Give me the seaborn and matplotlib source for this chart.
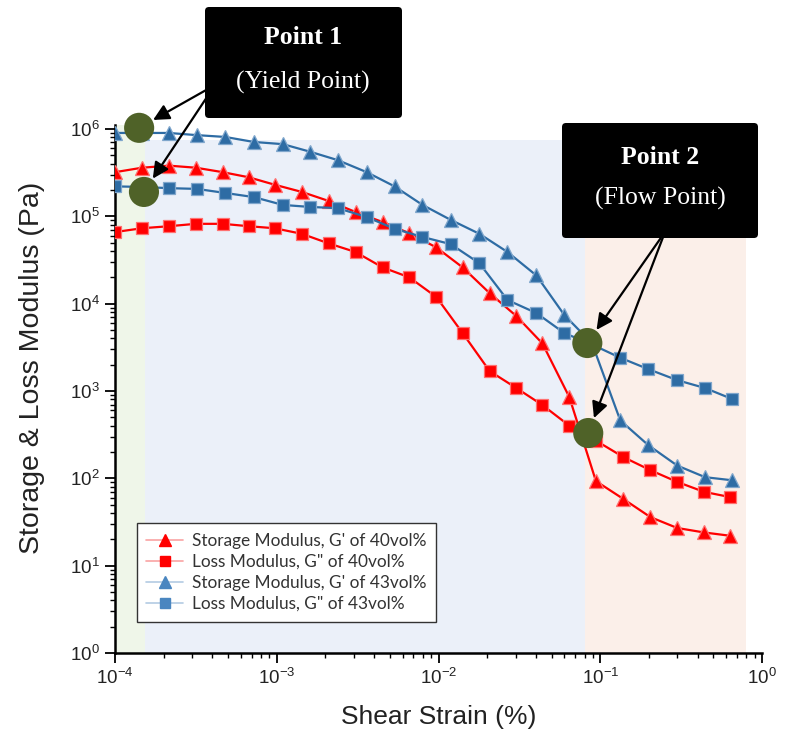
import numpy as np
import pandas as pd
import matplotlib
matplotlib.use("Agg")
import matplotlib.pyplot as plt
import seaborn as sns
from matplotlib.lines import Line2D
from matplotlib.patches import FancyBboxPatch, FancyArrowPatch
from matplotlib.transforms import IdentityTransform
from matplotlib.ticker import LogLocator, LogFormatterMathtext, NullFormatter

# ---------------- data ----------------
strain_40 = [1.0e-4, 1.47e-4, 2.16e-4, 3.16e-4, 4.64e-4, 6.7e-4, 9.7e-4, 1.43e-3,
             2.09e-3, 3.07e-3, 4.51e-3, 6.6e-3, 9.7e-3, 1.41e-2, 2.07e-2, 3.03e-2,
             4.39e-2, 6.44e-2, 9.4e-2, 0.139, 0.204, 0.299, 0.438, 0.634]
storage_40 = [3.2e5, 3.6e5, 3.8e5, 3.6e5, 3.2e5, 2.8e5, 2.3e5, 1.9e5, 1.5e5, 1.12e5,
              8.6e4, 6.4e4, 4.4e4, 2.6e4, 1.32e4, 7.2e3, 3.5e3, 8.5e2, 93, 58, 36,
              27, 24, 22]
loss_40 = [6.6e4, 7.3e4, 7.7e4, 8.2e4, 8.2e4, 7.7e4, 7.3e4, 6.3e4, 4.9e4, 3.9e4,
           2.6e4, 2.0e4, 1.19e4, 4.6e3, 1.69e3, 1.08e3, 6.9e2, 4.0e2, 2.7e2, 1.75e2,
           1.24e2, 91, 70, 61]

strain_43 = [1.0e-4, 1.47e-4, 2.15e-4, 3.2e-4, 4.8e-4, 7.2e-4, 1.09e-3, 1.6e-3,
             2.38e-3, 3.6e-3, 5.35e-3, 7.96e-3, 1.19e-2, 1.79e-2, 2.67e-2, 4.03e-2,
             6.0e-2, 8.9e-2, 0.133, 0.198, 0.299, 0.445, 0.653]
storage_43 = [9.0e5, 9.0e5, 9.0e5, 8.5e5, 8.1e5, 7.1e5, 6.7e5, 5.5e5, 4.4e5, 3.2e5,
              2.2e5, 1.35e5, 9.1e4, 6.3e4, 3.9e4, 2.1e4, 7.4e3, 3.5e3, 4.6e2, 2.4e2,
              1.4e2, 1.03e2, 95]
loss_43 = [2.2e5, 2.17e5, 2.1e5, 2.06e5, 1.85e5, 1.66e5, 1.35e5, 1.28e5, 1.24e5,
           9.8e4, 7.2e4, 5.8e4, 4.8e4, 2.9e4, 1.1e4, 7.8e3, 4.6e3, 3.4e3, 2.4e3,
           1.78e3, 1.33e3, 1.08e3, 8.1e2]

series_labels = ["Storage Modulus, G' of 40vol%", 'Loss Modulus, G" of 40vol%',
                 "Storage Modulus, G' of 43vol%", 'Loss Modulus, G" of 43vol%']

point_strain = [1.41e-4, 1.51e-4, 0.0832, 0.0843]
point_modulus = [1.03e6, 1.9e5, 3.54e3, 330]

box_titles = ["Point 1", "Point 2"]
box_subtitles = ["(Yield Point)", "(Flow Point)"]

zone_edges = [1e-4, 1.53e-4, 0.0807, 0.796]

# ---------------- style ----------------
sns.set_theme(style="ticks")
plt.rcParams['font.family'] = ['Liberation Sans', 'DejaVu Sans']
plt.rcParams['mathtext.default'] = 'regular'

RED = '#ff0000'
RED_EDGE = '#ff7070'
BLUE = '#2e6ca4'
BLUE_EDGE = '#7fa6cc'
OLIVE = '#4f6228'

W, H = 786, 737
fig = plt.figure(figsize=(W / 100, H / 100), dpi=100)
fig.patch.set_facecolor('white')
ax = fig.add_axes([115 / W, 1 - 653 / H, (762 - 115) / W, (653 - 125) / H])
ax.set_facecolor('white')
ax.set_xscale('log')
ax.set_yscale('log')

# background zones
ax.axvspan(zone_edges[0], zone_edges[1], ymin=0, ymax=1, color='#eff6e9', lw=0, zorder=0)
ax.axvspan(zone_edges[1], zone_edges[2], ymin=0, ymax=0.972, color='#ebf0f9', lw=0, zorder=0)
ax.axvspan(zone_edges[2], zone_edges[3], ymin=0, ymax=0.972, color='#fbefe9', lw=0, zorder=0)

common = dict(ax=ax, estimator=None, sort=False, legend=False, lw=1.6, mew=0.9)
sns.lineplot(x=strain_40, y=storage_40, color=RED, marker='^', markersize=10,
             mec=RED_EDGE, zorder=3, **common)
sns.lineplot(x=strain_40, y=loss_40, color=RED, marker='s', markersize=8,
             mec=RED_EDGE, zorder=3, **common)
sns.lineplot(x=strain_43, y=storage_43, color=BLUE, marker='^', markersize=10,
             mec=BLUE_EDGE, zorder=3, **common)
sns.lineplot(x=strain_43, y=loss_43, color=BLUE, marker='s', markersize=8,
             mec=BLUE_EDGE, zorder=3, **common)

# highlighted points
sns.scatterplot(x=point_strain, y=point_modulus, s=470, color=OLIVE, edgecolor='none',
                ax=ax, zorder=6, clip_on=False, legend=False)

ax.set_xlim(1e-4, 1)
ax.set_ylim(1, 1.11e6)

ax.xaxis.set_major_locator(LogLocator(base=10, numticks=20))
ax.yaxis.set_major_locator(LogLocator(base=10, numticks=20))
ax.xaxis.set_minor_locator(LogLocator(base=10, subs=np.arange(2, 10), numticks=100))
ax.yaxis.set_minor_locator(LogLocator(base=10, subs=np.arange(2, 10), numticks=100))
ax.xaxis.set_major_formatter(LogFormatterMathtext())
ax.yaxis.set_major_formatter(LogFormatterMathtext())
ax.xaxis.set_minor_formatter(NullFormatter())
ax.yaxis.set_minor_formatter(NullFormatter())

for s in ['top', 'right']:
    ax.spines[s].set_visible(False)
for s in ['left', 'bottom']:
    ax.spines[s].set_linewidth(1.8)
    ax.spines[s].set_color('black')

ax.tick_params(which='major', direction='out', length=7, width=1.3, labelsize=13.5,
               pad=4, colors='black')
ax.tick_params(which='minor', direction='out', length=3.6, width=1.0, colors='black')
for lab in ax.get_xticklabels() + ax.get_yticklabels():
    lab.set_color('#222222')

ax.set_xlabel('Shear Strain (%)', fontsize=19, color='#222222')
ax.set_ylabel('Storage & Loss Modulus (Pa)', fontsize=20.5, color='#222222')
ax.xaxis.set_label_coords(0.5, -0.098)
ax.yaxis.set_label_coords(-0.108, 0.54)

# legend
handles = [
    Line2D([0], [0], color='#f9a3a3', lw=1.2, marker='^', markersize=8.5, mfc=RED, mec=RED),
    Line2D([0], [0], color='#f9a3a3', lw=1.2, marker='s', markersize=7.5, mfc=RED, mec=RED),
    Line2D([0], [0], color='#b3cbe3', lw=1.2, marker='^', markersize=8.5, mfc='#4a86c0', mec='#4a86c0'),
    Line2D([0], [0], color='#b3cbe3', lw=1.2, marker='s', markersize=7.5, mfc='#4a86c0', mec='#4a86c0'),
]
leg = ax.legend(handles, series_labels, loc='upper left', bbox_to_anchor=(0.034, 0.246),
                prop={'family': 'Lato', 'size': 12.4}, frameon=True, fancybox=False,
                edgecolor='#333333', framealpha=1, borderaxespad=0, handlelength=2.1,
                handletextpad=0.55, labelspacing=0.3, borderpad=0.55)
leg.get_frame().set_linewidth(1.0)
for t in leg.get_texts():
    t.set_color('#333333')
leg.set_zorder(7)

# arrows from boxes to the highlighted points (drawn under the boxes)
arrow_starts = [(215, 85), (215, 85), (665, 232), (665, 232)]
for (sx, sy), px, py in zip(arrow_starts, point_strain, point_modulus):
    tip = ax.transData.transform((px, py))
    start = np.array([sx, H - sy], dtype=float)
    d = tip - start
    d = d / np.hypot(*d)
    end = tip - d * 16
    arr = FancyArrowPatch(tuple(start), tuple(end), arrowstyle='-|>', color='black',
                          lw=1.6, mutation_scale=24, shrinkA=0, shrinkB=0,
                          transform=IdentityTransform(), zorder=4)
    fig.patches.append(arr)

# annotation boxes
boxes = [(205, 7, 402, 118), (562, 123, 758, 238)]
for (x0, y0, x1, y1) in boxes:
    fig.patches.append(FancyBboxPatch((x0, H - y1), x1 - x0, y1 - y0,
                                      boxstyle='round,pad=0,rounding_size=4',
                                      facecolor='black', edgecolor='none',
                                      transform=IdentityTransform(), figure=fig, zorder=5))

text_pos = [(303, 38, 82), (660, 157, 198)]
for (cx, ty, sy), title, sub in zip(text_pos, box_titles, box_subtitles):
    fig.text(cx / W, 1 - ty / H, title, ha='center', va='center', fontsize=18.5,
             fontweight='bold', family='Liberation Serif', color='white', zorder=6)
    fig.text(cx / W, 1 - sy / H, sub, ha='center', va='center', fontsize=18.5,
             family='Liberation Serif', color='white', zorder=6)

fig.savefig('out.png', dpi=100, facecolor='white')
